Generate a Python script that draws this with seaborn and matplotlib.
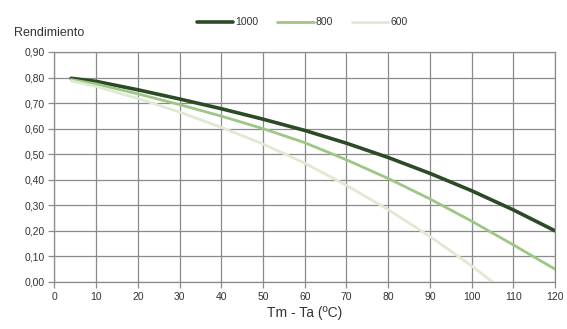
import matplotlib
matplotlib.use("Agg")
import matplotlib.pyplot as plt
import matplotlib.ticker as mticker
import seaborn as sns
import pandas as pd

# Data
x_1000 = [4, 10, 20, 30, 40, 50, 60, 70, 80, 90, 100, 110, 120]
y_1000 = [0.797, 0.785, 0.752, 0.716, 0.678, 0.637, 0.593, 0.543, 0.487, 0.425, 0.357, 0.282, 0.200]
x_800 = [4, 10, 20, 30, 40, 50, 60, 70, 80, 90, 100, 110, 120]
y_800 = [0.792, 0.775, 0.736, 0.694, 0.649, 0.600, 0.545, 0.478, 0.405, 0.325, 0.238, 0.145, 0.050]
x_600 = [4, 10, 20, 30, 40, 50, 60, 70, 80, 90, 100, 105]
y_600 = [0.787, 0.765, 0.718, 0.665, 0.605, 0.540, 0.465, 0.378, 0.283, 0.178, 0.063, 0.000]
series_names = ["1000", "800", "600"]
colors = ["#2c4a26", "#9cc784", "#dfe9d3"]
widths = [2.6, 2.0, 2.0]
x_ticks = list(range(0, 121, 10))
y_ticks = [0.0, 0.1, 0.2, 0.3, 0.4, 0.5, 0.6, 0.7, 0.8, 0.9]

df = pd.concat([
    pd.DataFrame({"x": x_1000, "y": y_1000, "serie": "1000"}),
    pd.DataFrame({"x": x_800, "y": y_800, "serie": "800"}),
    pd.DataFrame({"x": x_600, "y": y_600, "serie": "600"}),
], ignore_index=True)

sns.set_style("white")
plt.rcParams["font.family"] = ["Liberation Sans", "DejaVu Sans"]

fig = plt.figure(figsize=(5.67, 3.29), dpi=100)
ax = fig.add_axes([0.096, 0.143, 0.883, 0.699])

for name, c, w in zip(series_names, colors, widths):
    sub = df[df["serie"] == name]
    sns.lineplot(data=sub, x="x", y="y", color=c, linewidth=w, ax=ax,
                 label=name, sort=False)

ax.set_xlim(0, 120)
ax.set_ylim(0, 0.9)
ax.set_xticks(x_ticks)
ax.set_yticks(y_ticks)
ax.yaxis.set_major_formatter(mticker.FuncFormatter(lambda v, p: f"{v:.2f}".replace(".", ",")))
ax.grid(True, color="#8a8a8a", linewidth=0.9)
ax.set_axisbelow(True)
for s in ax.spines.values():
    s.set_color("#8a8a8a")
    s.set_linewidth(0.9)
ax.tick_params(axis="both", which="major", length=4, width=0.9, color="#8a8a8a",
               labelsize=7.5, labelcolor="#333333", pad=3, direction="out",
               bottom=True, left=True)
ax.set_xlabel("Tm - Ta (ºC)", fontsize=10, color="#333333", labelpad=3)
ax.set_ylabel("")

fig.text(0.025, 0.9, "Rendimiento", fontsize=9, color="#333333", va="center")

leg = ax.legend(loc="center", bbox_to_anchor=(0.533, 0.932), bbox_transform=fig.transFigure,
                ncol=3, frameon=False, fontsize=7.5, handlelength=3.5, handletextpad=0.2,
                columnspacing=1.8, labelcolor="#333333")

fig.savefig("out.png", dpi=100, facecolor="white")
